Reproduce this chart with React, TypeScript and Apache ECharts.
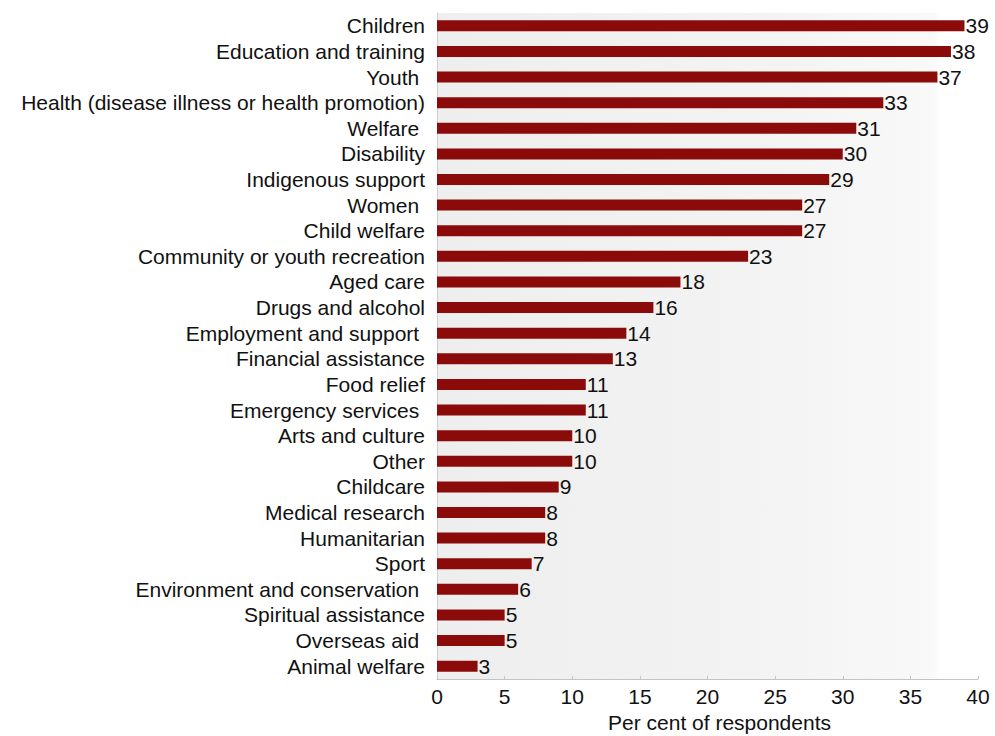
import React, { useEffect, useRef } from "react";
import * as echarts from "echarts";

const categories: string[] = [
  "Children",
  "Education and training",
  "Youth ",
  "Health (disease illness or health promotion)",
  "Welfare ",
  "Disability",
  "Indigenous support",
  "Women ",
  "Child welfare",
  "Community or youth recreation",
  "Aged care",
  "Drugs and alcohol",
  "Employment and support ",
  "Financial assistance",
  "Food relief",
  "Emergency services ",
  "Arts and culture",
  "Other",
  "Childcare",
  "Medical research",
  "Humanitarian",
  "Sport",
  "Environment and conservation ",
  "Spiritual assistance",
  "Overseas aid ",
  "Animal welfare",
];

const values: number[] = [39, 38, 37, 33, 31, 30, 29, 27, 27, 23, 18, 16, 14, 13, 11, 11, 10, 10, 9, 8, 8, 7, 6, 5, 5, 3];

const xTicks: number[] = [0, 5, 10, 15, 20, 25, 30, 35, 40];
const axisTitle = "Per cent of respondents";

const FONT = "'Liberation Sans', Arial, Helvetica, sans-serif";

export default function App() {
  const ref = useRef<HTMLDivElement>(null);
  useEffect(() => {
    if (!ref.current) return;
    const chart = echarts.init(ref.current, undefined, { renderer: "svg" });
    chart.setOption({
      animation: false,
      backgroundColor: "#ffffff",
      grid: {
        left: 437,
        right: 17,
        top: 13,
        bottom: 57,
        outerBoundsMode: "none",
        containLabel: false,
        show: true,
        borderWidth: 0,
        backgroundColor: {
          type: "linear",
          x: 0,
          y: 0,
          x2: 1,
          y2: 0,
          colorStops: [
            { offset: 0, color: "#eeeeee" },
            { offset: 0.6, color: "#f3f3f3" },
            { offset: 0.92, color: "#f9f9f9" },
            { offset: 0.93, color: "#ffffff" },
            { offset: 1, color: "#ffffff" },
          ],
        },
      },
      xAxis: {
        type: "value",
        min: xTicks[0],
        max: xTicks[xTicks.length - 1],
        interval: xTicks[1] - xTicks[0],
        name: axisTitle,
        nameLocation: "middle",
        nameGap: 33,
        nameTextStyle: {
          fontFamily: FONT,
          fontSize: 21,
          color: "#111",
          padding: [0, 0, 0, 24],
        },
        axisLine: { show: true, lineStyle: { color: "#c4c4c4", width: 1 } },
        axisTick: { show: true, length: 3, inside: true, lineStyle: { color: "#c4c4c4" } },
        axisLabel: { fontFamily: FONT, fontSize: 21, color: "#111", margin: 7 },
        splitLine: { show: false },
      },
      yAxis: {
        type: "category",
        data: categories,
        inverse: true,
        axisLine: { show: true, lineStyle: { color: "#cfcfcf", width: 1 } },
        axisTick: { show: false },
        axisLabel: {
          fontFamily: FONT,
          fontSize: 21,
          color: "#111",
          margin: 12,
          interval: 0,
        },
      },
      series: [
        {
          type: "bar",
          data: values,
          barWidth: 11,
          itemStyle: { color: "#8b0b0b" },
          label: {
            show: true,
            position: "right",
            distance: 1,
            fontFamily: FONT,
            fontSize: 21,
            color: "#111",
          },
        },
      ],
    });
    return () => chart.dispose();
  }, []);
  return <div ref={ref} style={{ width: 995, height: 736, position: "absolute", left: 0, top: 0 }} />;
}
